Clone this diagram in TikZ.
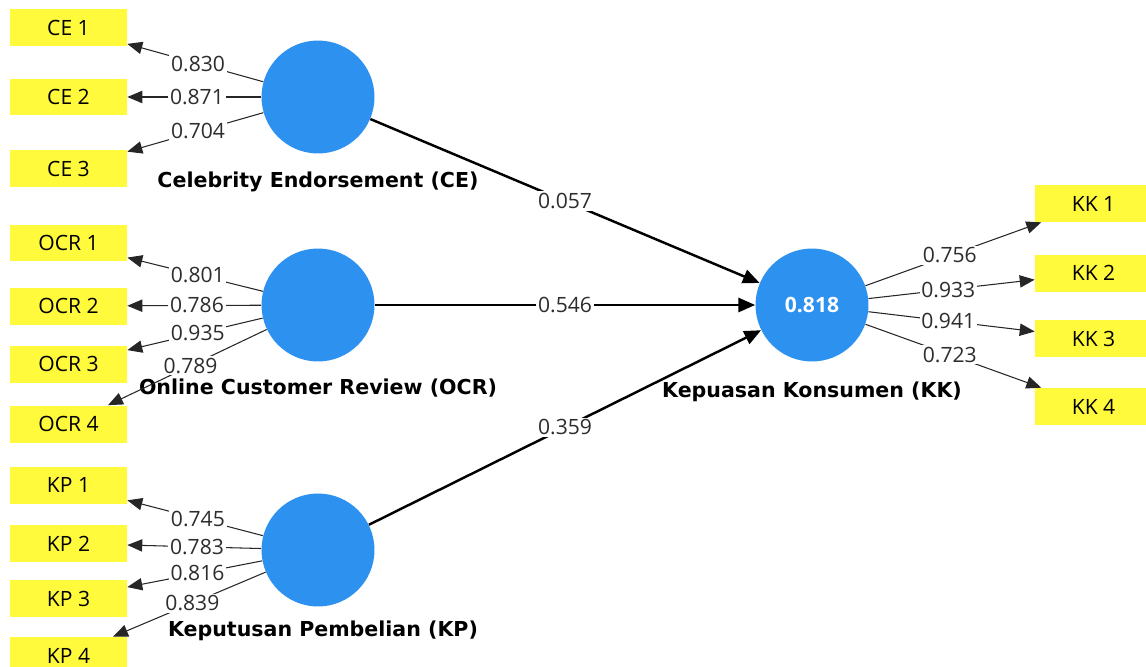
\documentclass[tikz,border=0pt]{standalone}
\usepackage{fontspec}
\setmainfont{Open Sans}
\newfontfamily\nomfont{DejaVu Sans}
\usepackage{tikz}
\usetikzlibrary{positioning,arrows.meta}
\definecolor{plsbleu}{RGB}{45,145,240}
\definecolor{plsjaune}{RGB}{255,250,60}
\definecolor{plstexte}{RGB}{45,45,45}

\begin{document}
\begin{tikzpicture}[x=0.02cm, y=-0.02cm,
    latente/.style={circle, fill=plsbleu, minimum size=2.26cm, inner sep=0pt},
    indicateur/.style={fill=plsjaune, minimum width=2.34cm, minimum height=0.74cm,
                       inner sep=0pt, font=\fontsize{12}{14}\selectfont},
    nomlat/.style={font=\nomfont\bfseries\fontsize{11.7}{14}\selectfont, inner sep=1pt},
    poids/.style={fill=white, inner sep=1pt, pos=0.48, text=plstexte,
                  font=\fontsize{12}{14}\selectfont},
    charge/.style={draw=black!85, line width=0.6pt,
                   -{Triangle[length=8.5pt,width=7pt]}},
    chemin/.style={draw=black, line width=1.4pt,
                   -{Triangle[length=9.5pt,width=8pt]}}]
  \useasboundingbox (0,0) rectangle (1146,666);
  % Variables latentes : disques bleus, R2 dans le disque endogene
  \node[latente] (ce) at (318,97) {};
  \node[latente] (ocr) at (318,305) {};
  \node[latente] (kp) at (318,550) {};
  \node[latente, text=white, font=\fontsize{12}{14}\selectfont\bfseries]
    (kk) at (812,305) {0.818};
  % Noms des construits, sous chaque disque
  \node[nomlat, below=0.32cm of ce] (nomce) {Celebrity Endorsement (CE)};
  \node[nomlat, below=0.3cm of ocr] (nomocr) {Online Customer Review (OCR)};
  \node[nomlat, below=0.24cm of kp, xshift=0.1cm] (nomkp) {Keputusan Pembelian (KP)};
  \node[nomlat, below=0.36cm of kk] (nomkk) {Kepuasan Konsumen (KK)};
  % Indicateurs : cartouches jaunes a gauche et a droite
  \node[indicateur] (ce1) at (68.5,27.5) {CE 1};
  \node[indicateur] (ce2) at (68.5,97) {CE 2};
  \node[indicateur] (ce3) at (68.5,168.5) {CE 3};
  \node[indicateur] (ocr1) at (68.5,243) {OCR 1};
  \node[indicateur] (ocr2) at (68.5,306) {OCR 2};
  \node[indicateur] (ocr3) at (68.5,364) {OCR 3};
  \node[indicateur] (ocr4) at (68.5,424) {OCR 4};
  \node[indicateur] (kp1) at (68.5,485) {KP 1};
  \node[indicateur] (kp2) at (68.5,543.5) {KP 2};
  \node[indicateur] (kp3) at (68.5,598.5) {KP 3};
  \node[indicateur] (kp4) at (68.5,655.5) {KP 4};
  \node[indicateur] (kk1) at (1093.5,203.5) {KK 1};
  \node[indicateur] (kk2) at (1093.5,273) {KK 2};
  \node[indicateur] (kk3) at (1093.5,338.5) {KK 3};
  \node[indicateur] (kk4) at (1093.5,406.5) {KK 4};
  % Poids factoriels (modele de mesure)
  \draw[charge] (ce) -- node[poids] {0.830} (ce1);
  \draw[charge] (ce) -- node[poids] {0.871} (ce2);
  \draw[charge] (ce) -- node[poids] {0.704} (ce3);
  \draw[charge] (ocr) -- node[poids] {0.801} (ocr1);
  \draw[charge] (ocr) -- node[poids] {0.786} (ocr2);
  \draw[charge] (ocr) -- node[poids] {0.935} (ocr3);
  \draw[charge] (ocr) -- node[poids] {0.789} (ocr4);
  \draw[charge] (kp) -- node[poids] {0.745} (kp1);
  \draw[charge] (kp) -- node[poids] {0.783} (kp2);
  \draw[charge] (kp) -- node[poids] {0.816} (kp3);
  \draw[charge] (kp) -- node[poids] {0.839} (kp4);
  \draw[charge] (kk) -- node[poids] {0.756} (kk1);
  \draw[charge] (kk) -- node[poids] {0.933} (kk2);
  \draw[charge] (kk) -- node[poids] {0.941} (kk3);
  \draw[charge] (kk) -- node[poids] {0.723} (kk4);
  % Coefficients de chemin (modele structurel)
  \draw[chemin] (ce) -- node[poids, pos=0.5] {0.057} (kk);
  \draw[chemin] (ocr) -- node[poids, pos=0.5] {0.546} (kk);
  \draw[chemin] (kp) -- node[poids, pos=0.5] {0.359} (kk);
\end{tikzpicture}
\end{document}
